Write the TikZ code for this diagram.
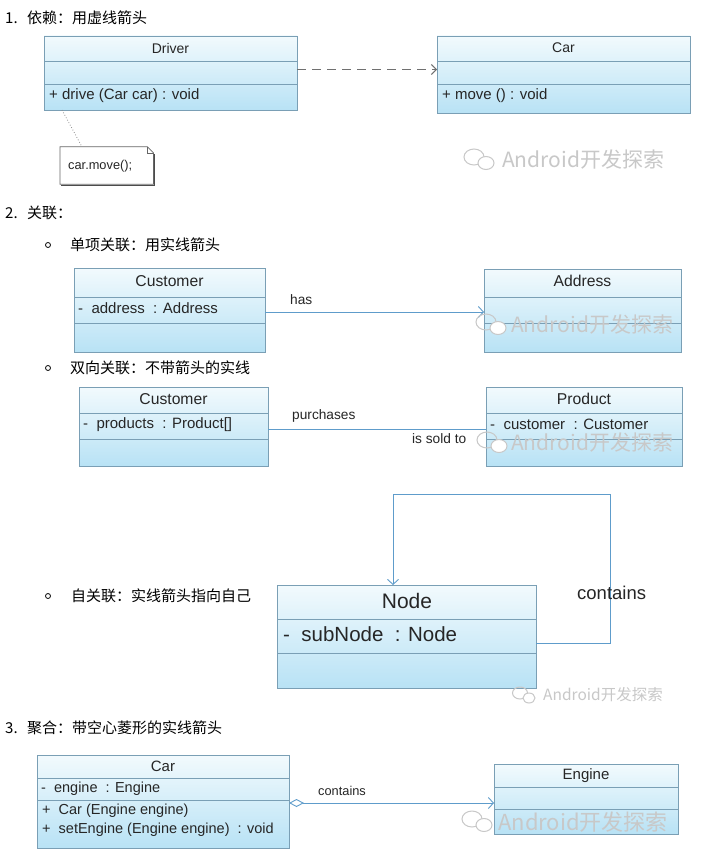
\documentclass[tikz,border=0pt]{standalone}
\usepackage{fontspec}
\setmainfont{Liberation Sans}
\newfontfamily\cjk{Noto Sans CJK SC}
\usetikzlibrary{arrows.meta,calc}
\definecolor{bd}{HTML}{7A9FB5}
\definecolor{ln}{HTML}{5E9CCB}
\definecolor{tp}{HTML}{F2FAFD}
\definecolor{bt}{HTML}{B8E2F5}
\definecolor{wm}{HTML}{C8C8C8}
\definecolor{dg}{HTML}{707070}
\tikzset{
  cls/.style={draw=bd, line width=0.9pt, top color=tp, bottom color=bt, anchor=north west, inner sep=0pt, outer sep=0pt},
  sepl/.style={draw=bd, line width=0.8pt},
  ttl/.style={font=\fontsize{14}{16}\selectfont, text=black!85, inner sep=0pt},
  ttlb/.style={font=\fontsize{15.7}{18}\selectfont, text=black!85, inner sep=0pt},
  mem/.style={font=\fontsize{15}{17}\selectfont, text=black!85, anchor=west, inner sep=0pt},
  head/.style={font=\cjk\fontsize{15}{18}\selectfont, anchor=west, inner sep=0pt},
  lab/.style={font=\fontsize{13.7}{15}\selectfont, text=black!85, inner sep=0pt},
  assoc/.style={draw=ln, line width=0.9pt},
  barb/.style={-{Straight Barb[length=5pt,width=11pt,line width=0.9pt]}},
  wmk/.style={font=\cjk\fontsize{21}{24}\selectfont, text=wm, anchor=west, inner sep=0pt},
  wicon/.style={draw=wm, line width=1pt},
  bul/.style={circle, draw=black, line width=0.8pt, minimum size=5pt, inner sep=0pt}
}
\begin{document}
\begin{tikzpicture}[x=1pt,y=-1pt]
\useasboundingbox[fill=white] (0,0) rectangle (721,856);

% ---------- Section 1 ----------
\node[head] (h1n) at (5,18) {1.};
\node[head] (h1) at (27,18) {依赖：用虚线箭头};

\node[cls, minimum width=253, minimum height=74] (drv) at (44,36) {};
\draw[sepl] ($(drv.north west)+(0,25)$) -- ($(drv.north east)+(0,25)$);
\draw[sepl] ($(drv.north west)+(0,48)$) -- ($(drv.north east)+(0,48)$);
\node[ttl] (drvT) at (170.5,48) {Driver};
\node[mem] (drvM) at (49,96) {+ drive (Car car) : void};

\node[cls, minimum width=253, minimum height=77] (car1) at (437,36) {};
\draw[sepl] ($(car1.north west)+(0,25)$) -- ($(car1.north east)+(0,25)$);
\draw[sepl] ($(car1.north west)+(0,48)$) -- ($(car1.north east)+(0,48)$);
\node[ttl] (car1T) at (563.5,48) {Car};
\node[mem] (car1M) at (442,96) {+ move () : void};

\draw[draw=dg, line width=1pt, dash pattern=on 9pt off 6pt, -{Straight Barb[length=5pt,width=10pt,line width=1pt]}]
  ($(drv.north east)+(0,33.5)$) -- ($(car1.north west)+(0,33.5)$);

\node[anchor=west, minimum width=93, minimum height=37, inner sep=0pt] (note) at (60,165.5) {};
\node[anchor=west, inner sep=0pt, font=\fontsize{12.8}{14}\selectfont, text=black!85] (noteT) at (68,166) {car.move();};
\draw[draw=black!60, line width=0.8pt] (note.north west) -- ($(note.north east)+(-6,0)$) -- ($(note.north east)+(0,6)$) -- (note.south east) -- (note.south west) -- cycle;
\draw[draw=black!60, line width=0.6pt] ($(note.north east)+(-6,0)$) -- ($(note.north east)+(-6,6)$) -- ($(note.north east)+(0,6)$);
\draw[draw=black!70, line width=1.2pt] ($(note.south west)+(1,1)$) -- ($(note.south east)+(1,1)$) -- ($(note.north east)+(1,7)$);
\draw[draw=black!45, line width=0.8pt, dotted] ($(drv.south west)+(18,0)$) -- ($(note.north west)+(22,0)$);

\draw[wicon] (474,157) ellipse [x radius=10, y radius=8];
\draw[wicon, fill=white] (486,163) ellipse [x radius=8, y radius=6.5];
\node[wmk] (wm1) at (502,160) {Android开发探索};

% ---------- Section 2 ----------
\node[head] (h2n) at (5,213) {2.};
\node[head] (h2) at (27,213) {关联：};

\node[bul] (b1) at (48,245) {};
\node[head] (h2a) at (70,245) {单项关联：用实线箭头};

\node[cls, minimum width=191, minimum height=84] (cu1) at (74,268) {};
\draw[sepl] ($(cu1.north west)+(0,29)$) -- ($(cu1.north east)+(0,29)$);
\draw[sepl] ($(cu1.north west)+(0,55)$) -- ($(cu1.north east)+(0,55)$);
\node[ttlb] (cu1T) at (169.5,281) {Customer};
\node[mem] (cu1M) at (78,308) {-\ \ address\ \ : Address};

\node[cls, minimum width=197, minimum height=83] (adr) at (484,269) {};
\draw[sepl] ($(adr.north west)+(0,28)$) -- ($(adr.north east)+(0,28)$);
\draw[sepl] ($(adr.north west)+(0,54)$) -- ($(adr.north east)+(0,54)$);
\node[ttlb] (adrT) at (582.5,281) {Address};

\draw[assoc, barb] ($(cu1.north east)+(0,44)$) -- ($(adr.north west)+(0,43)$);
\node[lab, anchor=west] (has) at (290,300) {has};

\draw[wicon] (486,322) ellipse [x radius=10, y radius=8];
\draw[wicon, fill=white] (498,328) ellipse [x radius=8, y radius=6.5];
\node[wmk] (wm2) at (511,325) {Android开发探索};

\node[bul] (b2) at (48,368) {};
\node[head] (h2b) at (70,368) {双向关联：不带箭头的实线};

\node[cls, minimum width=189, minimum height=79] (cu2) at (79,387) {};
\draw[sepl] ($(cu2.north west)+(0,26)$) -- ($(cu2.north east)+(0,26)$);
\draw[sepl] ($(cu2.north west)+(0,52)$) -- ($(cu2.north east)+(0,52)$);
\node[ttlb] (cu2T) at (173.5,399) {Customer};
\node[mem] (cu2M) at (83,425) {-\ \ products\ \ : Product[]};

\node[cls, minimum width=196, minimum height=79] (prd) at (486,387) {};
\draw[sepl] ($(prd.north west)+(0,26)$) -- ($(prd.north east)+(0,26)$);
\draw[sepl] ($(prd.north west)+(0,52)$) -- ($(prd.north east)+(0,52)$);
\node[ttlb] (prdT) at (584,399) {Product};
\node[mem] (prdM) at (490,424) {-\ \ customer\ \ : Customer};

\draw[assoc] ($(cu2.north east)+(0,42)$) -- ($(prd.north west)+(0,42)$);
\node[lab, anchor=west] (pur) at (292,416) {purchases};
\node[lab, anchor=west] (sold) at (412,439) {is sold to};

\draw[wicon] (487,440) ellipse [x radius=10, y radius=8];
\draw[wicon, fill=white] (499,446) ellipse [x radius=8, y radius=6.5];
\node[wmk] (wm3) at (511,443) {Android开发探索};

% self association
\node[bul] (b3) at (48,596) {};
\node[head] (h2c) at (71,596) {自关联：实线箭头指向自己};

\node[cls, minimum width=259, minimum height=103] (nd) at (277,585) {};
\draw[sepl] ($(nd.north west)+(0,34)$) -- ($(nd.north east)+(0,34)$);
\draw[sepl] ($(nd.north west)+(0,68)$) -- ($(nd.north east)+(0,68)$);
\node[ttl, font=\fontsize{21}{23}\selectfont] (ndT) at (407,601) {Node};
\node[mem, font=\fontsize{20.5}{23}\selectfont] (ndM) at (283,634) {-\ \ subNode\ \ : Node};

\coordinate (lpA) at (610,494);
\coordinate (lpB) at (393,494);
\draw[assoc, barb] ($(nd.north east)+(0,58)$) -| (lpA) -- (lpB) -- ($(nd.north west)+(116,0)$);
\node[lab, anchor=west, font=\fontsize{18.5}{20}\selectfont] (ndC) at (577,593) {contains};

\draw[wicon] (520,693) ellipse [x radius=7.5, y radius=6];
\draw[wicon, fill=white] (529,698) ellipse [x radius=6, y radius=5];
\node[wmk, font=\cjk\fontsize{15.5}{18}\selectfont] (wm4) at (543,695) {Android开发探索};

% ---------- Section 3 ----------
\node[head] (h3n) at (5,728) {3.};
\node[head] (h3) at (27,728) {聚合：带空心菱形的实线箭头};

\node[cls, minimum width=252, minimum height=93] (car2) at (37,755) {};
\draw[sepl] ($(car2.north west)+(0,23)$) -- ($(car2.north east)+(0,23)$);
\draw[sepl] ($(car2.north west)+(0,45)$) -- ($(car2.north east)+(0,45)$);
\node[ttl, font=\fontsize{15}{17}\selectfont] (car2T) at (163,766) {Car};
\node[mem, font=\fontsize{14.5}{17}\selectfont] (car2M1) at (41,789) {-\ \ engine\ \ : Engine};
\node[mem, font=\fontsize{14.5}{17}\selectfont] (car2M2) at (42,811) {+\ \ Car (Engine engine)};
\node[mem, font=\fontsize{14.5}{17}\selectfont] (car2M3) at (42,830) {+\ \ setEngine (Engine engine)\ \ : void};

\node[cls, minimum width=184, minimum height=70] (eng) at (494,764) {};
\draw[sepl] ($(eng.north west)+(0,23)$) -- ($(eng.north east)+(0,23)$);
\draw[sepl] ($(eng.north west)+(0,45)$) -- ($(eng.north east)+(0,45)$);
\node[ttl, font=\fontsize{15}{17}\selectfont] (engT) at (586,776) {Engine};

\draw[assoc, {Diamond[open, fill=white, length=15pt, width=8pt, line width=0.9pt]}-{Straight Barb[length=5pt,width=11pt,line width=0.9pt]}]
  ($(car2.north east)+(0,48)$) -- ($(eng.north west)+(0,39)$);
\node[lab, anchor=west, font=\fontsize{12.8}{14}\selectfont] (con3) at (318,791) {contains};

\draw[wicon] (472,819) ellipse [x radius=10, y radius=8];
\draw[wicon, fill=white] (484,825) ellipse [x radius=8, y radius=6.5];
\node[wmk, font=\cjk\fontsize{22}{24}\selectfont] (wm5) at (498,822) {Android开发探索};
\end{tikzpicture}
\end{document}
